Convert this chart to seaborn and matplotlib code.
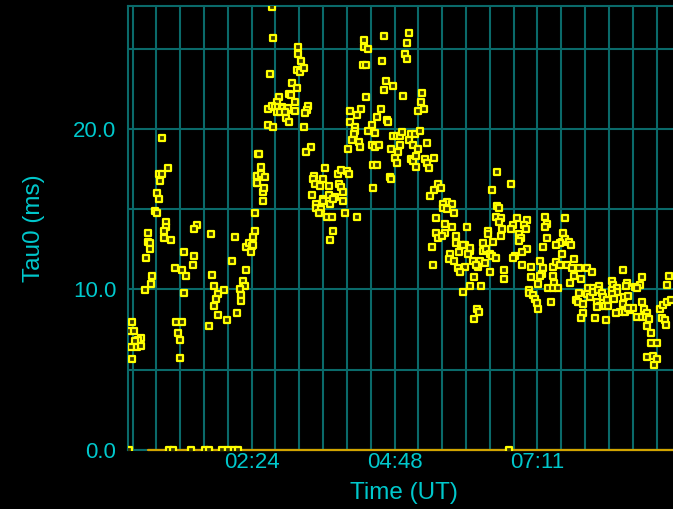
import matplotlib
matplotlib.use("Agg")
import matplotlib.pyplot as plt
import numpy as np
import pandas as pd
import seaborn as sns
from matplotlib.ticker import FixedLocator

# ---------------- data (time in minutes after 00:00 UT, Tau0 in ms) ----------------
time_min = [
    54, 50.3, 54, 59.3, 51.9, 48.6, 50.3, 46.3, 48.6, 147.6,
    57.3, 57.3, 55.6, 39.5, 39.5, 41.2, 41.2, 55.6, 63, 37.8,
    88.9, 86.4, 102.7, 75.4, 86.4, 84.4, 66.4, 73.7, 77.4, 43.8,
    42.8, 36.2, 75.4, 104.3, 106.3, 115.8, 110.1, 108.1, 106.3, 109.7,
    100.7, 119.1, 129.5, 124.5, 126.9, 137.9, 135.2, 136.9, 131.9, 133.5,
    133.5, 138.6, 141.3, 144.3, 145.6, 143.3, 145.6, 147.6, 149, 149,
    150, 68, 73.7, 70, 72, 72, 23.4, 21.7, 25.1, 32.7,
    29.4, 26.1, 22.1, 28.7, 32.1, 23.4, 164.2, 165.7, 190.9, 190.9,
    193.4, 189.3, 192.7, 196.4, 162.1, 184.6, 189.3, 181.9, 183.6, 171.2,
    187.3, 169.2, 160.7, 164.2, 167.5, 170.8, 174.2, 175.9, 179.3, 180.9,
    169.2, 172.5, 177.6, 187.3, 201, 199.4, 198, 178.3, 181.9, 160.7,
    165.7, 196.4, 203.4, 198.4, 151.4, 153.1, 149.6, 153.1, 157.4, 149.6,
    155.1, 156.7, 155.1, 218.2, 207.1, 205.5, 207.5, 212.5, 216.1, 204.5,
    208.8, 209.1, 213.8, 211.5, 215.5, 216.1, 221.9, 221.6, 223.2, 228.2,
    226.2, 231, 234.3, 239.7, 241.7, 232.3, 234.3, 236.3, 236, 220.2,
    225.2, 238, 250.4, 225.6, 223.2, 257.4, 257.4, 261.2, 255.8, 259.5,
    259.5, 243, 253.8, 250.4, 270.3, 243, 248.4, 248.4, 246.8, 245.1,
    241.3, 252.1, 253.1, 261.5, 265.3, 268.6, 265.3, 268.6, 272, 266.6,
    270.3, 266.6, 277.6, 302.5, 300.8, 298.1, 300.8, 275.6, 279.4, 286.4,
    277.6, 296.4, 315.3, 314.3, 311.9, 317.3, 274, 280.1, 281.1, 286.4,
    290.1, 293.7, 295.4, 304.5, 308.2, 313.6, 302.8, 306.5, 311.9, 321,
    284.7, 293.7, 291.7, 288.4, 290.1, 304.5, 306.5, 309.8, 309.8, 319,
    321, 322.7, 328, 283.7, 284.7, 331.7, 328, 335.1, 323.7, 340.5,
    337.1, 345.8, 337.1, 340.5, 347.8, 329.7, 338.8, 345.8, 329.7, 338.8,
    332, 335.4, 349.8, 326, 349.8, 391.2, 405.6, 385.9, 391.5, 393.2,
    389.9, 394.9, 393.2, 411, 421.8, 418.4, 420.1, 407.3, 405.6, 360.6,
    382.5, 382.5, 396.5, 394.9, 413.3, 415, 413, 439.8, 441.5, 439.8,
    441.5, 355.2, 358.9, 376.8, 376.8, 380.5, 387.4, 364, 362.3, 353.2,
    344.2, 342.9, 347.9, 384.1, 386.1, 389.9, 421.7, 416.4, 409.3, 407.6,
    437.8, 367.4, 374.1, 379.1, 372.4, 370.1, 359, 351.6, 353.9, 326.5,
    416.4, 425.4, 434.5, 437.8, 436.2, 434.5, 398.5, 384.1, 368.1, 398.5,
    425.4, 364, 375.1, 357.4, 432.5, 423.4, 423.4, 427.7, 429.4, 431.2,
    432.8, 371.4, 373.1, 368.1, 357.4, 364, 459.6, 457.9, 456.3, 459.6,
    454.6, 450.6, 463.6, 465.9, 456.3, 447.3, 450.6, 454.6, 448.9, 447.3,
    442.9, 447.9, 452.9, 461.4, 468.7, 467, 474.1, 468.7, 476.1, 465,
    481.5, 486.9, 445.3, 474.1, 483.2, 488.2, 494.3, 481.5, 484.9, 488.2,
    493.2, 496.7, 498.3, 501.7, 470.8, 473.1, 477.5, 491.6, 495, 500,
    503.3, 491.6, 478.1, 476.1, 490.2, 501.3, 506.7, 508.3, 511.8, 506.7,
    511.8, 506.7, 509, 518.1, 522.5, 520.8, 519.4, 522.9, 517.8, 515.1,
    510.7, 520.1, 525.2, 527.9, 523.5, 537.3, 535.3, 530.2, 531.9, 537.3,
    539.3, 542.6, 531.9, 537, 541.3, 544, 542.6, 546.3, 546.3, 552.1,
    542.6, 548, 552.1, 549.7, 555.4, 558.7, 562.2, 566.5, 557.4, 560.4,
    561.7, 564.5, 562.5,
]
tau0_ms = [
    19.44, 17.2, 17.2, 17.55, 16.78, 16.0, 15.66, 14.9, 14.77, 14.77,
    14.2, 13.9, 13.66, 13.54, 12.98, 12.88, 12.54, 13.2, 13.1, 11.98,
    14.0, 13.77, 13.44, 12.32, 12.09, 11.55, 11.32, 11.2, 10.86, 10.86,
    10.32, 9.97, 9.76, 10.92, 10.2, 9.97, 9.7, 9.41, 8.97, 8.43,
    7.75, 8.08, 8.53, 11.76, 13.3, 11.2, 10.53, 10.2, 10.05, 9.64,
    9.3, 12.67, 12.88, 12.7, 12.77, 12.36, 13.3, 13.64, 17.1, 16.66,
    18.44, 8.0, 8.0, 7.31, 6.85, 5.75, 7.97, 7.41, 7.41, 6.98,
    6.85, 6.77, 6.44, 6.44, 6.5, 5.65, 27.6, 25.67, 25.13, 24.67,
    24.22, 23.68, 23.57, 23.78, 23.45, 22.89, 22.55, 22.2, 22.1, 21.99,
    21.66, 21.66, 21.22, 21.43, 21.39, 21.35, 21.39, 21.29, 21.18, 21.29,
    21.08, 21.08, 21.08, 21.1, 21.43, 21.18, 20.98, 20.69, 20.44, 20.23,
    20.1, 20.1, 18.88, 18.55, 18.44, 17.65, 17.1, 17.22, 16.99, 16.66,
    16.1, 16.32, 15.53, 17.55, 17.09, 16.88, 16.55, 16.45, 16.88, 15.89,
    15.33, 15.1, 15.0, 14.79, 15.64, 15.51, 16.43, 15.89, 15.33, 15.78,
    15.66, 17.22, 17.43, 17.35, 17.22, 16.55, 16.4, 16.1, 15.53, 14.54,
    14.54, 14.77, 14.54, 13.66, 13.1, 25.56, 25.1, 25.0, 24.0, 24.0,
    21.99, 21.12, 21.22, 20.89, 20.77, 20.44, 20.1, 19.9, 19.67, 19.33,
    18.77, 19.2, 18.9, 19.9, 20.23, 19.77, 19.0, 18.9, 19.0, 17.78,
    17.78, 16.32, 25.79, 26.0, 25.34, 24.67, 24.34, 24.22, 22.99, 22.66,
    22.45, 22.07, 22.22, 21.66, 21.12, 21.22, 21.22, 20.56, 20.44, 19.55,
    19.55, 19.55, 19.8, 19.67, 19.67, 19.88, 19.31, 19.0, 18.77, 19.1,
    18.77, 19.0, 18.55, 18.22, 17.88, 18.13, 17.99, 18.32, 17.65, 18.11,
    17.86, 17.55, 18.22, 17.0, 16.87, 16.55, 16.21, 16.32, 15.8, 15.45,
    15.33, 15.33, 15.1, 15.0, 14.77, 14.43, 14.1, 13.9, 13.54, 13.54,
    13.2, 13.33, 13.31, 12.65, 12.88, 17.32, 16.55, 16.22, 15.22, 15.1,
    14.54, 14.43, 14.2, 14.43, 14.33, 14.0, 13.77, 14.0, 13.77, 13.87,
    13.66, 13.44, 13.77, 13.33, 13.44, 13.21, 13.0, 14.54, 14.1, 13.87,
    13.21, 12.77, 12.77, 12.88, 12.42, 12.54, 12.98, 12.42, 12.2, 12.32,
    12.21, 11.88, 11.76, 12.2, 12.09, 11.98, 12.54, 12.32, 12.09, 11.98,
    12.65, 11.76, 11.76, 11.65, 11.42, 11.53, 11.42, 11.32, 11.11, 11.53,
    11.55, 11.42, 11.76, 11.32, 10.98, 10.86, 11.21, 11.09, 10.76, 10.65,
    10.76, 10.2, 10.2, 9.86, 10.32, 9.99, 9.76, 9.66, 9.43, 9.14,
    8.77, 8.79, 8.62, 8.18, 12.77, 12.57, 14.43, 13.54, 12.98, 13.13,
    12.88, 12.77, 12.98, 12.77, 12.21, 11.42, 11.73, 11.55, 10.42, 10.86,
    10.07, 10.07, 10.07, 11.55, 11.88, 11.32, 11.32, 10.86, 10.63, 10.42,
    11.32, 11.09, 9.2, 9.76, 10.07, 10.07, 10.22, 9.72, 9.55, 9.86,
    9.97, 9.76, 9.55, 9.35, 9.35, 9.24, 9.08, 9.24, 8.97, 8.97,
    8.97, 8.89, 8.52, 8.21, 8.21, 8.08, 10.53, 10.28, 10.07, 9.97,
    9.86, 9.72, 9.43, 11.2, 10.38, 10.22, 9.55, 9.61, 9.08, 8.62,
    8.52, 8.62, 8.72, 8.83, 8.83, 10.76, 10.3, 10.14, 10.07, 9.2,
    8.77, 8.52, 8.31, 8.31, 8.31, 8.18, 7.75, 7.31, 6.65, 6.65,
    5.77, 5.86, 5.65, 5.31, 8.77, 9.03, 9.24, 9.35, 8.21, 8.1,
    7.77, 10.86, 10.3,
]
# samples that came out as zero
zero_time_min = [20.4, 60.5, 64.5, 82.5, 96.5, 101.5, 114.5, 120.5, 126.5, 130.5, 403]
zero_tau0_ms = [0.0] * len(zero_time_min)

# zero reference trace
baseline_time_min = [39.5, 580]
baseline_ms = [0.0, 0.0]

x_tick_values = [144, 288, 432]
x_tick_labels = ["02:24", "04:48", "07:11"]
y_tick_values = [0, 10, 20]
y_tick_labels = ["0.0", "10.0", "20.0"]

# ---------------- styling ----------------
BG = "#000000"
GRID = "#0a6a6a"
TEXT = "#00c8cc"
MARK_EDGE = "#ffff00"
MARK_FACE = "#3a3a00"
BASE = "#d2a400"

sns.set_theme(style="dark")
plt.rcParams["font.family"] = ["Liberation Sans", "DejaVu Sans"]

df = pd.DataFrame({"time": time_min + zero_time_min,
                   "tau0": tau0_ms + zero_tau0_ms})

fig = plt.figure(figsize=(6.73, 5.09), dpi=100, facecolor=BG)
ax = fig.add_axes([128 / 673, 59 / 509, 545 / 673, 444 / 509])
ax.set_facecolor(BG)

ax.set_xlim(19.4, 568.6)
ax.set_ylim(0, 27.66)

ax.set_xticks(x_tick_values, x_tick_labels)
ax.xaxis.set_minor_locator(FixedLocator(np.arange(24, 569, 24)))
ax.set_yticks(y_tick_values, y_tick_labels)
ax.yaxis.set_minor_locator(FixedLocator([5, 15, 25]))

ax.grid(True, which="both", color=GRID, linewidth=1.5)
ax.set_axisbelow(True)

for side in ["left", "top", "bottom"]:
    ax.spines[side].set_color(GRID)
    ax.spines[side].set_linewidth(1.5)
    ax.spines[side].set_visible(True)
    ax.spines[side].set_zorder(2)
ax.spines["right"].set_visible(False)

sns.lineplot(x=baseline_time_min, y=baseline_ms, color=BASE, linewidth=1.6,
             ax=ax, zorder=2.8, clip_on=False, sort=False)

sns.scatterplot(data=df, x="time", y="tau0", marker="s", s=14,
                color=MARK_FACE, edgecolor=MARK_EDGE, linewidth=1.6,
                ax=ax, zorder=3, legend=False)

ax.tick_params(axis="both", which="both", length=0, colors=TEXT, labelsize=16)
ax.tick_params(axis="y", pad=8.5)
ax.tick_params(axis="x", pad=1.5)

ax.set_xlabel("Time (UT)", color=TEXT, fontsize=17.5)
ax.set_ylabel("Tau0 (ms)", color=TEXT, fontsize=17.5)
ax.xaxis.set_label_coords(0.506, -0.072)
ax.yaxis.set_label_coords(-0.152, 0.5)

fig.savefig("out.png", dpi=100, facecolor=BG)
